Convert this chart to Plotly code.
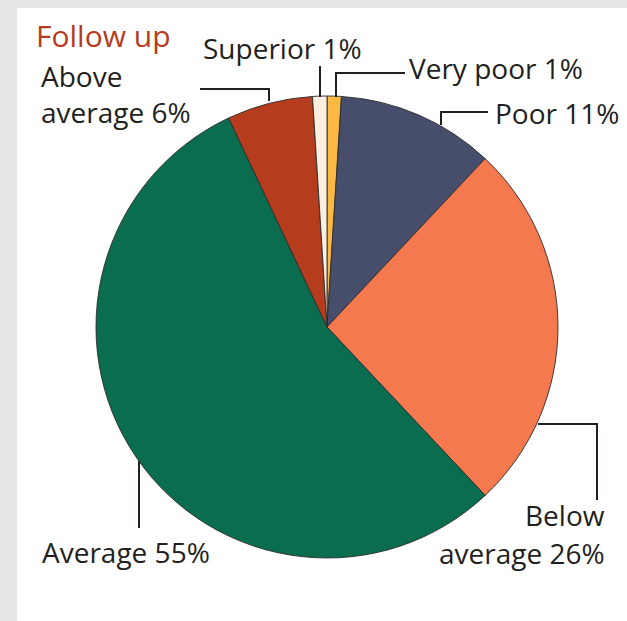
import plotly.graph_objects as go

W, H = 627, 621

# Survey follow-up ratings, clockwise from 12 o'clock
categories = ["Very poor", "Poor", "Below average", "Average", "Above average", "Superior"]
shares = [1, 11, 26, 55, 6, 1]
colors = ["#fbb943", "#474e6c", "#f4794e", "#0b6d4f", "#b53c1d", "#fdefdf"]

label_font = dict(family="Open Sans, Noto Sans, sans-serif", size=28, color="#231f20")


def px(x):
    return x / W


def py(y):
    return 1 - y / H


# Pie placement (pixels): centre and radius
cx, cy, r = 327, 327, 231

fig = go.Figure(
    go.Pie(
        labels=categories,
        values=shares,
        sort=False,
        direction="clockwise",
        rotation=0,
        marker=dict(colors=colors, line=dict(color="#2b2b2b", width=0.9)),
        textinfo="none",
        hoverinfo="label+percent",
        domain=dict(x=[px(cx - r), px(cx + r)], y=[py(cy + r), py(cy - r)]),
        showlegend=False,
    )
)

shapes = [
    # white panel over the grey page
    dict(type="rect", xref="paper", yref="paper", x0=px(17), x1=1.0, y0=0.0, y1=py(8),
         fillcolor="white", line=dict(width=0), layer="below"),
]

# Leader lines (pixel polylines) keyed by category
leaders = {
    "Superior": [(320, 97), (320, 66)],
    "Very poor": [(336, 97), (336, 73), (405, 73)],
    "Poor": [(441, 125), (441, 112), (488, 112)],
    "Above average": [(269, 101), (269, 89), (200, 89)],
    "Below average": [(538, 424), (597, 424), (597, 500)],
    "Average": [(139, 461), (139, 528)],
}
for pts in leaders.values():
    path = "M " + " L ".join(f"{px(x)},{py(y)}" for x, y in pts)
    shapes.append(dict(type="path", xref="paper", yref="paper", path=path,
                       line=dict(color="#231f20", width=2)))

# Label placement: (anchor x px, alignment, [baseline y px per line])
label_pos = {
    "Superior": (201, "left", [58]),
    "Very poor": (407, "left", [78]),
    "Poor": (493, "left", [123]),
    "Below average": (607, "right", [525, 563]),
    "Average": (40, "left", [562]),
    "Above average": (39, "left", [86, 122]),
}

annotations = [
    dict(text="Follow up", x=px(34), y=py(46 - 10.5), xref="paper", yref="paper",
         xanchor="left", yanchor="middle", showarrow=False,
         font=dict(family="Open Sans, Noto Sans, sans-serif", size=30, color="#b53c1d")),
]
for cat, val in zip(categories, shares):
    x, align, baselines = label_pos[cat]
    text = f"{cat} {val}%"
    lines = text.split(" ", 1) if len(baselines) == 2 else [text]
    for line, base in zip(lines, baselines):
        annotations.append(dict(
            text=line, x=px(x), y=py(base - 10), xref="paper", yref="paper",
            xanchor=align, yanchor="middle", showarrow=False, font=label_font,
        ))

fig.update_layout(
    width=W, height=H,
    margin=dict(l=0, r=0, t=0, b=0),
    paper_bgcolor="#e6e7e9",
    plot_bgcolor="white",
    shapes=shapes,
    annotations=annotations,
)

fig.write_html("out.html")
